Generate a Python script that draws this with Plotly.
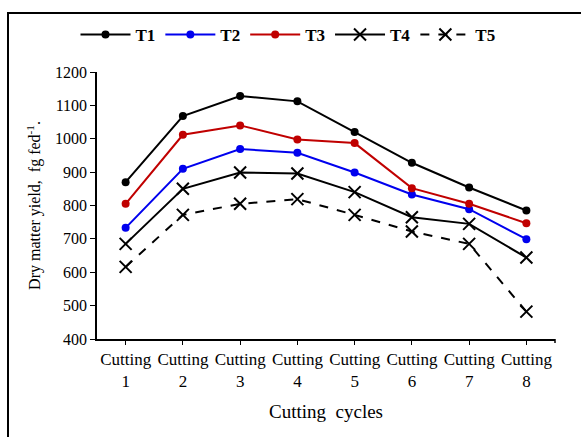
import plotly.graph_objects as go

categories = ["Cutting<br>1", "Cutting<br>2", "Cutting<br>3", "Cutting<br>4",
              "Cutting<br>5", "Cutting<br>6", "Cutting<br>7", "Cutting<br>8"]
T1 = [870, 1068, 1128, 1112, 1020, 928, 854, 785]
T2 = [733, 910, 969, 958, 899, 833, 789, 699]
T3 = [805, 1012, 1040, 998, 987, 852, 805, 747]
T4 = [685, 850, 899, 896, 840, 765, 745, 644]
T5 = [616, 772, 805, 819, 772, 722, 685, 482]

series = [
    ("T1", T1, "black", "circle", "solid"),
    ("T2", T2, "#0000ee", "circle", "solid"),
    ("T3", T3, "#c00000", "circle", "solid"),
    ("T4", T4, "black", "x-thin", "solid"),
    ("T5", T5, "black", "x-thin", "dash"),
]

FONT = "Times New Roman, Liberation Serif, serif"

fig = go.Figure()
for name, vals, color, sym, dash in series:
    if sym == "circle":
        marker = dict(symbol="circle", size=8, color=color)
    else:
        marker = dict(symbol="x-thin", size=12, color=color,
                      line=dict(color=color, width=2))
    fig.add_trace(go.Scatter(
        x=list(range(len(categories))), y=vals, name="<b>" + name + "</b>",
        mode="lines+markers",
        line=dict(color=color, width=2, dash=dash), marker=marker))

W, H = 581, 437
L, R, T, B = 97, 26, 72, 98
pw, ph = W - L - R, H - T - B

def px_x(p):
    return (p - L) / pw

def px_y(p):
    return 1 + (T - p) / ph

fig.update_layout(
    width=W, height=H,
    margin=dict(l=L, r=R, t=T, b=B),
    paper_bgcolor="white", plot_bgcolor="white",
    font=dict(family=FONT, color="black", size=16),
    showlegend=True,
    legend=dict(orientation="h", x=px_x(288), xanchor="center", y=px_y(35),
                yanchor="middle", font=dict(size=17, family=FONT),
                itemwidth=50, tracegroupgap=0, bgcolor="rgba(0,0,0,0)"),
    xaxis=dict(
        tickmode="array", tickvals=list(range(len(categories))), ticktext=categories,
        range=[-0.5, len(categories) - 0.5],
        showline=True, linecolor="black", linewidth=1.5,
        ticks="outside", ticklen=4, tickcolor="black",
        showgrid=False, zeroline=False,
        tickfont=dict(size=17),
        title=dict(text="Cutting  cycles", font=dict(size=19), standoff=14),
    ),
    yaxis=dict(
        range=[400, 1200], dtick=100,
        showline=True, linecolor="black", linewidth=1.5,
        ticks="outside", ticklen=5, tickcolor="black",
        showgrid=False, zeroline=False,
        tickfont=dict(size=16),
        title=dict(text="Dry matter yield,  fg fed<sup>-1</sup>.", font=dict(size=16), standoff=10),
    ),
)

fig.add_shape(type="rect", xref="paper", yref="paper",
              x0=px_x(8), x1=px_x(600), y0=px_y(460), y1=px_y(13),
              line=dict(color="black", width=2), fillcolor="rgba(0,0,0,0)", layer="below")
fig.add_shape(type="line", xref="paper", yref="paper",
              x0=1, x1=1, y0=0, y1=px_y(339 + 4),
              line=dict(color="black", width=1.5))

fig.write_html("out.html")
